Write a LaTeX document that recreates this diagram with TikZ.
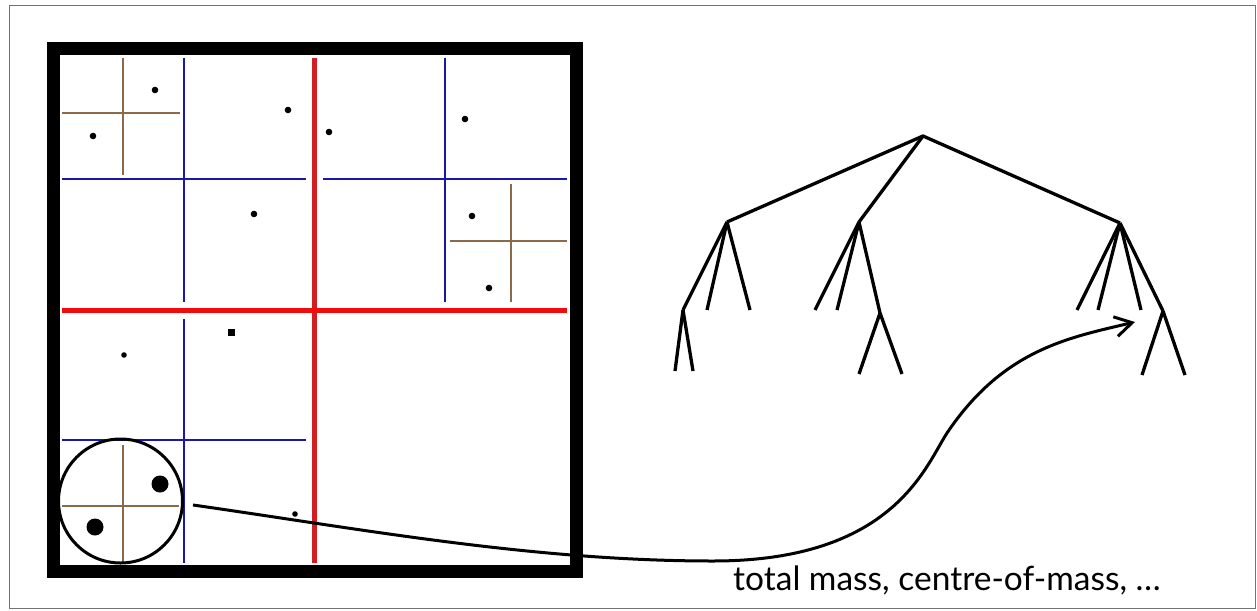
\documentclass[tikz,border=0pt]{standalone}
\usepackage{fontspec}
\setmainfont{Lato}
\usetikzlibrary{arrows.meta}
\definecolor{redH}{RGB}{240,12,12}
\definecolor{redV}{RGB}{210,30,35}
\definecolor{blueL}{RGB}{25,25,165}
\definecolor{brownL}{RGB}{140,105,75}
\begin{document}
\begin{tikzpicture}[x=1pt,y=-1pt,
  frame/.style={draw=black!55, line width=1.5pt},
  bigbox/.style={draw=black, line width=13pt},
  redline/.style={line width=5pt},
  blueline/.style={draw=blueL, line width=2.5pt},
  brownline/.style={draw=brownL, line width=1.5pt},
  tline/.style={draw=black, line width=3.3pt},
  conn/.style={draw=black, line width=3pt, -{Straight Barb[length=17pt,width=20pt,line width=3pt]}},
  lbl/.style={font=\fontsize{33.5}{38}\selectfont, inner sep=0pt, anchor=base west}]
\useasboundingbox (0,0) rectangle (1257,610);
\draw[frame] (9.5,5.5) rectangle (1255.5,608.5);
% quadtree box
\draw[bigbox] (53.5,49) rectangle (576,571);
% red
\draw[redline, draw=redV] (314,58) -- (314,563);
\draw[redline, draw=redH] (62,310) -- (567,310);
% blue
\draw[blueline] (184,58) -- (184,302);
\draw[blueline] (62,179) -- (306,179);
\draw[blueline] (445,58) -- (445,302);
\draw[blueline] (323,179) -- (567,179);
\draw[blueline] (184,319) -- (184,563);
\draw[blueline] (62,440) -- (306,440);
% brown
\draw[brownline] (123,58) -- (123,175);
\draw[brownline] (62,113) -- (180,113);
\draw[brownline] (511,184) -- (511,302);
\draw[brownline] (450,241) -- (567,241);
\draw[brownline] (123,445) -- (123,563);
\draw[brownline] (62,506) -- (179,506);
% bodies
\fill (155,90) circle[radius=3.3];
\fill (93,136) circle[radius=3.3];
\fill (288,110) circle[radius=3.3];
\fill (329,132) circle[radius=3.3];
\fill (254,214) circle[radius=3.3];
\fill (465,119) circle[radius=3.3];
\fill (472,216) circle[radius=3.3];
\fill (489,288) circle[radius=3.3];
\fill (227.5,328.5) rectangle (234.5,335.5);
\fill (124,355) circle[radius=2.8];
\fill (295,514) circle[radius=2.8];
\fill (160,484) circle[radius=8.5];
\fill (95,527) circle[radius=8.5];
% circled cell
\draw[black, line width=3pt] (120.5,501) circle[radius=62];
% tree
\coordinate (r) at (923,136);
\coordinate (a) at (727,222);
\coordinate (b) at (859,222);
\coordinate (c) at (1120,223);
\coordinate (a1) at (683,310);
\coordinate (a2) at (707,310);
\coordinate (a3) at (750,310);
\coordinate (a11) at (675,371);
\coordinate (a12) at (693,371);
\coordinate (b1) at (815,310);
\coordinate (b2) at (837,310);
\coordinate (b3) at (880,313);
\coordinate (b31) at (859,374);
\coordinate (b32) at (902,374);
\coordinate (c1) at (1077,310);
\coordinate (c2) at (1098,310);
\coordinate (c3) at (1141,310);
\coordinate (c4) at (1163,311);
\coordinate (c41) at (1142,375);
\coordinate (c42) at (1185,375);
\draw[tline, line join=round] (a) -- (r) -- (c);
\draw[tline] (r) -- (b);
\draw[tline] (a) -- (a1); \draw[tline] (a) -- (a2); \draw[tline] (a) -- (a3);
\draw[tline] (a1) -- (a11); \draw[tline] (a1) -- (a12);
\draw[tline] (b) -- (b1); \draw[tline] (b) -- (b2); \draw[tline] (b) -- (b3);
\draw[tline] (b3) -- (b31); \draw[tline] (b3) -- (b32);
\draw[tline] (c) -- (c1); \draw[tline] (c) -- (c2); \draw[tline] (c) -- (c3); \draw[tline] (c) -- (c4);
\draw[tline] (c4) -- (c41); \draw[tline] (c4) -- (c42);
% connector
\coordinate (s) at (193,505);
\coordinate (p1) at (713,561);
\coordinate (p2) at (947,433);
\coordinate (e) at (1135,322);
\draw[conn] (s) .. controls (361,529) and (533,561) .. (p1)
  .. controls (893,561) and (925,467) .. (p2)
  .. controls (1003,350) and (1067,338) .. (e);
\node[lbl] (t) at (733,590) {total mass, centre-of-mass, …};
\end{tikzpicture}
\end{document}
